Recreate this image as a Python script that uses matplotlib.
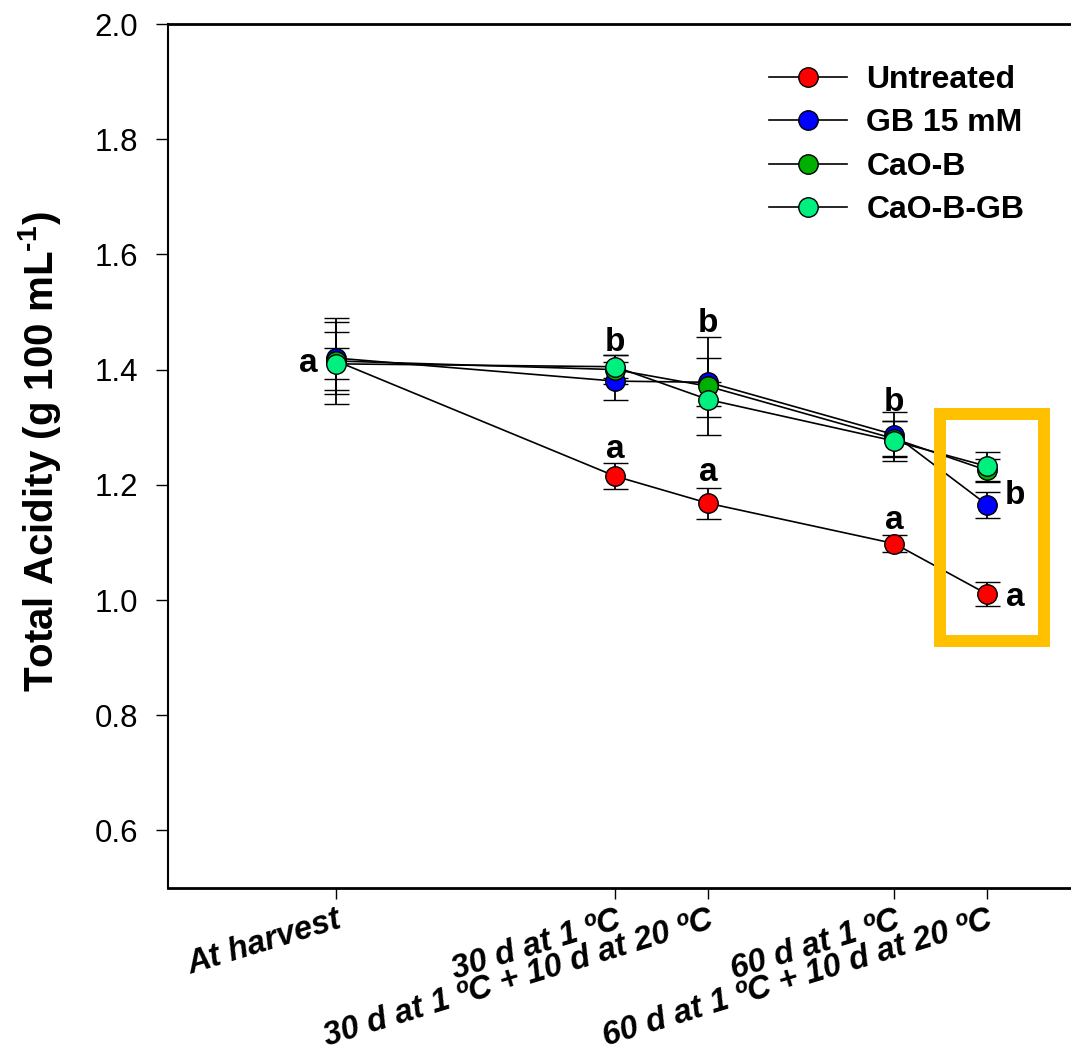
import matplotlib
matplotlib.use("Agg")
import matplotlib.pyplot as plt
import matplotlib.transforms as mtransforms
from matplotlib.patches import Rectangle
from matplotlib.lines import Line2D

plt.rcParams["font.family"] = ["Liberation Sans", "DejaVu Sans"]
plt.rcParams["mathtext.fontset"] = "custom"
plt.rcParams["mathtext.rm"] = "Liberation Sans:bold"
plt.rcParams["mathtext.bf"] = "Liberation Sans:bold"

# Storage time points (days) and their labels
days = [0, 30, 40, 60, 70]
tick_labels = ["At harvest", "30 d at 1 ºC", "30 d at 1 ºC + 10 d at 20 ºC",
               "60 d at 1 ºC", "60 d at 1 ºC + 10 d at 20 ºC"]

# Total acidity (g 100 mL-1), mean and error per treatment
untreated = [1.415, 1.215, 1.168, 1.098, 1.010]
untreated_err = [0.074, 0.022, 0.027, 0.015, 0.021]
gb15 = [1.420, 1.380, 1.378, 1.287, 1.165]
gb15_err = [0.062, 0.033, 0.042, 0.039, 0.023]
caob = [1.415, 1.400, 1.371, 1.280, 1.225]
caob_err = [0.050, 0.025, 0.085, 0.030, 0.020]
caobgb = [1.410, 1.405, 1.348, 1.276, 1.232]
caobgb_err = [0.027, 0.020, 0.030, 0.035, 0.025]

series_names = ["Untreated", "GB 15 mM", "CaO-B", "CaO-B-GB"]
series_vals = [untreated, gb15, caob, caobgb]
series_errs = [untreated_err, gb15_err, caob_err, caobgb_err]
series_colors = ["#FF0000", "#0000FF", "#00B000", "#00F080"]

# Significance letters: (day, baseline value, letter)
letters_x = [-3.0, 30, 30, 40, 40, 60, 60, 73.0, 73.0]
letters_y = [1.395, 1.432, 1.247, 1.466, 1.206, 1.328, 1.124, 1.166, 0.989]
letters_txt = ["a", "b", "a", "b", "a", "b", "a", "b", "a"]

fig = plt.figure(figsize=(10.71, 10.51), dpi=100)
ax = fig.add_axes([168 / 1071, 163 / 1051, 917 / 1071, 864 / 1051])

handles = []
for name, vals, errs, col in zip(series_names, series_vals, series_errs, series_colors):
    ax.errorbar(days, vals, yerr=errs, color="black", lw=1.2, elinewidth=1.3,
                capsize=9, capthick=1.3, marker="o", markersize=14,
                markerfacecolor=col, markeredgecolor="black", markeredgewidth=1.0,
                zorder=3)
    handles.append(Line2D([], [], color="black", lw=1.2, marker="o", markersize=14,
                          markerfacecolor=col, markeredgecolor="black",
                          markeredgewidth=1.0, label=name))

for x, y, t in zip(letters_x, letters_y, letters_txt):
    ax.text(x, y, t, ha="center", va="baseline", fontsize=24, fontweight="bold")

# Highlight box around the final time point
ax.add_patch(Rectangle((64.9, 0.929), 11.2, 0.3945, fill=False,
                       edgecolor="#FFC000", lw=8.6, zorder=5, clip_on=False))

ax.set_xlim(-18.06, 80.5)
ax.set_ylim(0.5, 2.0)
yt = [0.6, 0.8, 1.0, 1.2, 1.4, 1.6, 1.8, 2.0]
ax.set_yticks(yt)
ax.set_yticklabels([f"{v:.1f}" for v in yt])
ax.set_xticks(days)
ax.set_xticklabels(tick_labels, rotation=17, ha="right", va="top",
                   rotation_mode="anchor", fontsize=23.5, fontweight="bold",
                   fontstyle="italic")
offset = mtransforms.ScaledTranslation(6 / 100, 0, fig.dpi_scale_trans)
for lab in ax.get_xticklabels():
    lab.set_transform(lab.get_transform() + offset)

ax.tick_params(axis="y", direction="out", length=8.6, width=1.0,
               labelsize=22.5, pad=13)
ax.tick_params(axis="x", direction="out", length=8, width=1.0, pad=4)

ax.spines["right"].set_visible(False)
ax.spines["left"].set_linewidth(1.5)
ax.spines["bottom"].set_linewidth(2.0)
ax.spines["top"].set_linewidth(2.0)

ax.set_ylabel(r"Total Acidity (g 100 mL$^{\text{-1}}$)", fontsize=29,
              fontweight="bold", va="center")
ax.yaxis.set_label_coords(40 / 1071, 0.505, transform=mtransforms.blended_transform_factory(
    fig.transFigure, ax.transAxes))

leg = ax.legend(handles=handles, loc="upper left",
                bbox_to_anchor=(769 / 1071, 1 - 65 / 1051),
                bbox_transform=fig.transFigure, frameon=False,
                prop={"weight": "bold", "size": 23}, handlelength=2.45,
                handletextpad=0.6, labelspacing=0.42, borderpad=0,
                borderaxespad=0)

fig.savefig("out.png", dpi=100)
